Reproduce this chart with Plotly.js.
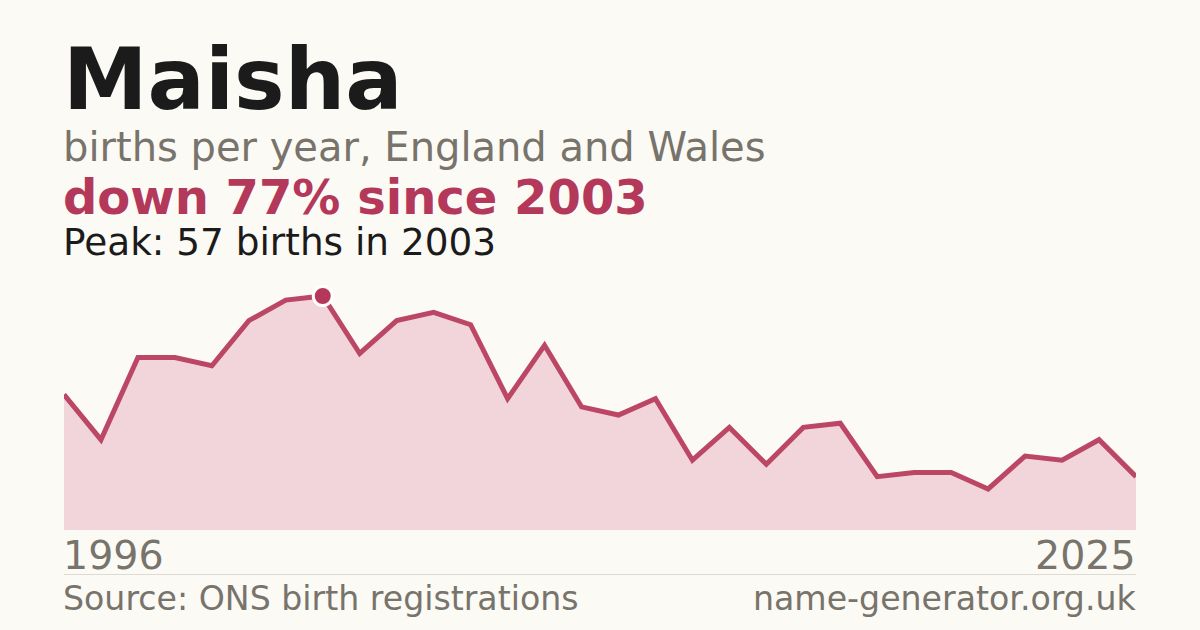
<!DOCTYPE html>
<html>
<head>
<meta charset="utf-8">
<script src="https://cdn.plot.ly/plotly-3.0.1.min.js"></script>
<style>
    html, body {margin: 0; padding: 0; background: #fbfaf5;}
    #div_graphe {width: 1200px; height: 630px;}
</style>
</head>
<body>
<div id="div_graphe"></div>
<script>
let annees = [1996, 1997, 1998, 1999, 2000, 2001, 2002, 2003, 2004, 2005,
    2006, 2007, 2008, 2009, 2010, 2011, 2012, 2013, 2014, 2015,
    2016, 2017, 2018, 2019, 2020, 2021, 2022, 2023, 2024, 2025]
let naissances = [33, 22, 42, 42, 40, 51, 56, 57, 43, 51,
    53, 50, 32, 45, 30, 28, 32, 17, 25, 16,
    25, 26, 13, 14, 14, 10, 18, 17, 22, 13]
let annee_pic = [2003]
let valeur_pic = [57]
let etiquettes_annees = ["1996", "2025"]

let prenom = "Maisha"
let sous_titre = "births per year, England and Wales"
let tendance = "down 77% since 2003"
let texte_pic = "Peak: 57 births in 2003"
let source = "Source: ONS birth registrations"
let site = "name-generator.org.uk"

// zone du trace : x 64 -> 1136, y 0 -> 530 (px)
function px_x(px){
    return (px - 64)/1072
}
function px_y(py){
    return (530 - py)/530
}

function tracer_prenom(div){
    let police = "DejaVu Sans"
    let gris = "#78736b"
    let plot_courbe = {
        x: annees, y: naissances, mode: "lines", type: "scatter",
        fill: "tozeroy", fillcolor: "#f1d5da",
        line: {width: 5, color: "#bb4765"},
        hoverinfo: "skip"
    }
    let plot_pic = {
        x: annee_pic, y: valeur_pic, mode: "markers", type: "scatter",
        marker: {size: 19, color: "#b3385a", line: {width: 3, color: "#ffffff"}},
        cliponaxis: false
    }
    let annotations = [
        {text: "<b>" + prenom + "</b>", x: px_x(62), y: px_y(80), font: {size: 85, color: "#1b1b1b"}},
        {text: sous_titre, x: px_x(62), y: px_y(147), font: {size: 40, color: gris}},
        {text: "<b>" + tendance + "</b>", x: px_x(62), y: px_y(197), font: {size: 48, color: "#b3385a"}},
        {text: texte_pic, x: px_x(62), y: px_y(242), font: {size: 37.4, color: "#1b1b1b"}},
        {text: etiquettes_annees[0], x: px_x(62), y: px_y(555), font: {size: 39.5, color: gris}},
        {text: etiquettes_annees[1], x: px_x(1137), y: px_y(555), xanchor: "right", font: {size: 39.5, color: gris}},
        {text: source, x: px_x(62), y: px_y(598), font: {size: 33.2, color: gris}},
        {text: site, x: px_x(1137), y: px_y(598), xanchor: "right", font: {size: 33.2, color: gris}}
    ]
    for (let a of annotations){
        a.xref = "paper"
        a.yref = "paper"
        a.showarrow = false
        if (!a.xanchor){
            a.xanchor = "left"
        }
        a.yanchor = "middle"
        a.borderpad = 0
        a.font.family = police
    }
    let layout = {
        width: 1200,
        height: 630,
        paper_bgcolor: "#fbfaf5",
        plot_bgcolor: "#fbfaf5",
        showlegend: false,
        xaxis: {
            range: [1996, 2025],
            visible: false,
            fixedrange: true
        },
        yaxis: {
            range: [0, 530/4.105],
            visible: false,
            fixedrange: true
        },
        margin: {l: 64, r: 64, t: 0, b: 100, pad: 0},
        annotations: annotations,
        shapes: [{
            type: "line", xref: "paper", yref: "paper",
            x0: 0, x1: 1, y0: px_y(574.5), y1: px_y(574.5),
            line: {width: 1, color: "#dddad2"}
        }]
    }
    Plotly.newPlot(div, [plot_courbe, plot_pic], layout, {staticPlot: true})
}

tracer_prenom(document.getElementById("div_graphe"))
</script>
</body>
</html>
